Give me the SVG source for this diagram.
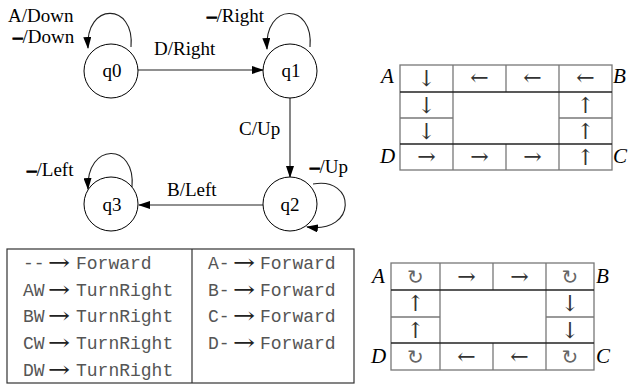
<svg xmlns="http://www.w3.org/2000/svg" width="630" height="386" viewBox="0 0 630 386">
<defs>
<marker id="ah" markerWidth="12" markerHeight="8" refX="11" refY="4" orient="auto" markerUnits="userSpaceOnUse">
<path d="M0,0 L12,4 L0,8 Z" fill="#000"/>
</marker>
<style>
.st{fill:#fff;stroke:#000;stroke-width:1}
.lb{font-family:"Liberation Serif","Times New Roman",serif;font-size:19px;fill:#000}
.dd{font-weight:bold;stroke:#000;stroke-width:0.9}
.qn{font-family:"Liberation Serif","Times New Roman",serif;font-size:19px;fill:#000;text-anchor:middle}
.ed{fill:none;stroke:#222;stroke-width:1.1;marker-end:url(#ah)}
.gl{stroke:#777;stroke-width:1.3;fill:none}
.dl{stroke:#222;stroke-width:1.3;fill:none}
.ca{font-family:"DejaVu Serif",serif;font-size:22px;fill:#333;text-anchor:middle}
.cr{font-family:"DejaVu Sans",sans-serif;font-size:20px;fill:#666;text-anchor:middle}
.cl{font-family:"Liberation Serif","Times New Roman",serif;font-style:italic;font-size:21px;fill:#000}
.mo{font-family:"Liberation Mono","Courier New",monospace;font-size:18px;fill:#555}
.ar{font-family:"DejaVu Serif",serif;font-size:22px;fill:#222}
</style>
</defs>

<g id="edges">
<line class="ed" x1="138" y1="70" x2="263" y2="70"/>
<line class="ed" x1="290" y1="97" x2="290" y2="177"/>
<line class="ed" x1="263" y1="205" x2="139" y2="205"/>
<path class="ed" d="M131,47 C135,2 85,2 88,48"/>
<path class="ed" d="M310,47 C314,2 264,2 267,49"/>
<path class="ed" d="M132,187 C136,142 86,142 88,189"/>
<path class="ed" d="M313,184 C356,176 358,234 307,227"/>
</g>

<g id="labels">
<text class="lb" x="8" y="22">A/Down</text>
<text class="lb" x="13" y="43"><tspan class="dd">–</tspan>/Down</text>
<text class="lb" x="154" y="55">D/Right</text>
<text class="lb" x="207" y="22"><tspan class="dd">–</tspan>/Right</text>
<text class="lb" x="239" y="135">C/Up</text>
<text class="lb" x="310" y="173"><tspan class="dd">–</tspan>/Up</text>
<text class="lb" x="167" y="196">B/Left</text>
<text class="lb" x="27" y="176"><tspan class="dd">–</tspan>/Left</text>
</g>

<g id="q0"><circle class="st" cx="111" cy="71" r="27"/><text class="qn" x="112" y="77">q0</text></g>
<g id="q1"><circle class="st" cx="290" cy="71" r="27"/><text class="qn" x="291" y="77">q1</text></g>
<g id="q2"><circle class="st" cx="290" cy="204" r="27"/><text class="qn" x="290" y="211">q2</text></g>
<g id="q3"><circle class="st" cx="111" cy="204" r="27"/><text class="qn" x="112" y="211">q3</text></g>

<g id="rules">
<rect x="7" y="249" width="347" height="134" fill="none" stroke="#333" stroke-width="1.2"/>
<line x1="192" y1="249" x2="192" y2="383" stroke="#333" stroke-width="1.2"/>
<text class="mo" x="23" y="269">--</text><text class="ar" x="48" y="270" textLength="22" lengthAdjust="spacingAndGlyphs">→</text><text class="mo" x="76" y="269">Forward</text>
<text class="mo" x="23" y="296">AW</text><text class="ar" x="48" y="297" textLength="22" lengthAdjust="spacingAndGlyphs">→</text><text class="mo" x="76" y="296">TurnRight</text>
<text class="mo" x="23" y="322">BW</text><text class="ar" x="48" y="323" textLength="22" lengthAdjust="spacingAndGlyphs">→</text><text class="mo" x="76" y="322">TurnRight</text>
<text class="mo" x="23" y="349">CW</text><text class="ar" x="48" y="350" textLength="22" lengthAdjust="spacingAndGlyphs">→</text><text class="mo" x="76" y="349">TurnRight</text>
<text class="mo" x="23" y="376">DW</text><text class="ar" x="48" y="377" textLength="22" lengthAdjust="spacingAndGlyphs">→</text><text class="mo" x="76" y="376">TurnRight</text>
<text class="mo" x="208" y="269">A-</text><text class="ar" x="233" y="270" textLength="22" lengthAdjust="spacingAndGlyphs">→</text><text class="mo" x="260" y="269">Forward</text>
<text class="mo" x="208" y="296">B-</text><text class="ar" x="233" y="297" textLength="22" lengthAdjust="spacingAndGlyphs">→</text><text class="mo" x="260" y="296">Forward</text>
<text class="mo" x="208" y="322">C-</text><text class="ar" x="233" y="323" textLength="22" lengthAdjust="spacingAndGlyphs">→</text><text class="mo" x="260" y="322">Forward</text>
<text class="mo" x="208" y="349">D-</text><text class="ar" x="233" y="350" textLength="22" lengthAdjust="spacingAndGlyphs">→</text><text class="mo" x="260" y="349">Forward</text>
</g>

<g id="grid1">
<rect class="gl" x="400" y="65" width="212" height="105"/>
<line class="gl" x1="453" y1="65" x2="453" y2="170"/>
<line class="gl" x1="559" y1="65" x2="559" y2="170"/>
<line class="gl" x1="506" y1="65" x2="506" y2="92"/>
<line class="gl" x1="506" y1="144" x2="506" y2="170"/>
<line class="gl" x1="400" y1="118" x2="453" y2="118"/>
<line class="gl" x1="559" y1="118" x2="612" y2="118"/>
<line class="dl" x1="400" y1="92" x2="612" y2="92"/>
<line class="dl" x1="400" y1="144" x2="612" y2="144"/>
<text class="cl" x="381" y="83">A</text>
<text class="cl" x="613" y="83">B</text>
<text class="cl" x="380" y="163">D</text>
<text class="cl" x="613" y="163">C</text>
<text class="ca" x="426.5" y="86">↓</text>
<text class="ca" x="479.5" y="85">←</text>
<text class="ca" x="532.5" y="85">←</text>
<text class="ca" x="585.5" y="85">←</text>
<text class="ca" x="426.5" y="113">↓</text>
<text class="ca" x="585.5" y="113">↑</text>
<text class="ca" x="426.5" y="139">↓</text>
<text class="ca" x="585.5" y="139">↑</text>
<text class="ca" x="426.5" y="164">→</text>
<text class="ca" x="479.5" y="164">→</text>
<text class="ca" x="532.5" y="164">→</text>
<text class="ca" x="585.5" y="165">↑</text>
</g>

<g id="grid2">
<rect class="gl" x="391" y="263" width="203" height="107"/>
<line class="gl" x1="440" y1="263" x2="440" y2="370"/>
<line class="gl" x1="546" y1="263" x2="546" y2="370"/>
<line class="gl" x1="493" y1="263" x2="493" y2="290"/>
<line class="gl" x1="493" y1="343" x2="493" y2="370"/>
<line class="gl" x1="391" y1="317" x2="440" y2="317"/>
<line class="gl" x1="546" y1="317" x2="594" y2="317"/>
<line class="dl" x1="391" y1="290" x2="594" y2="290"/>
<line class="dl" x1="391" y1="343" x2="594" y2="343"/>
<text class="cl" x="372" y="283">A</text>
<text class="cl" x="596" y="283">B</text>
<text class="cl" x="371" y="363">D</text>
<text class="cl" x="596" y="363">C</text>
<text class="cr" x="415.5" y="284">↻</text>
<text class="ca" x="466.5" y="284">→</text>
<text class="ca" x="519.5" y="284">→</text>
<text class="cr" x="570" y="284">↻</text>
<text class="ca" x="415.5" y="311">↑</text>
<text class="ca" x="570" y="311">↓</text>
<text class="ca" x="415.5" y="338">↑</text>
<text class="ca" x="570" y="338">↓</text>
<text class="cr" x="415.5" y="364">↻</text>
<text class="ca" x="466.5" y="364">←</text>
<text class="ca" x="519.5" y="364">←</text>
<text class="cr" x="570" y="364">↻</text>
</g>
</svg>
